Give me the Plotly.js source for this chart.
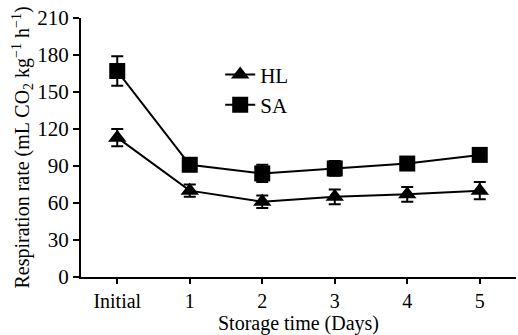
<!DOCTYPE html>
<html><head><meta charset="utf-8">
<script src="https://cdn.plot.ly/plotly-3.0.1.min.js"></script>
<style>html,body{margin:0;padding:0;background:#fff}#chart{width:518px;height:335px}</style>
</head><body><div id="chart"></div>
<script>
const categories = ["Initial", "1", "2", "3", "4", "5"];
const hlValues = [113, 70, 61, 65, 67, 70];
const hlErrors = [7, 5, 5, 6, 6, 7];
const saValues = [167, 91, 84, 88, 92, 99];
const saErrors = [12, 3, 7, 6, 3, 3];
const yTicks = [0, 30, 60, 90, 120, 150, 180, 210];

const font = {family: "Liberation Serif", color: "#000"};
const xIdx = categories.map((c, i) => i);
const f = s => Object.assign({size: s}, font);

const traces = [
  {x: xIdx, y: hlValues, name: "HL", type: "scatter", mode: "lines+markers",
   line: {color: "#000", width: 2},
   marker: {symbol: "triangle-up", size: 16, color: "#000"},
   error_y: {type: "data", array: hlErrors, visible: true, color: "#000", thickness: 2, width: 6}},
  {x: xIdx, y: saValues, name: "SA", type: "scatter", mode: "lines+markers",
   line: {color: "#000", width: 2},
   marker: {symbol: "square", size: 16, color: "#000"},
   error_y: {type: "data", array: saErrors, visible: true, color: "#000", thickness: 2, width: 6}}
];

const layout = {
  width: 518, height: 335,
  margin: {l: 81, r: 2, t: 18, b: 58},
  paper_bgcolor: "#fff", plot_bgcolor: "#fff",
  font: f(21),
  showlegend: true,
  legend: {x: 0.32, y: 0.86, xanchor: "left", yanchor: "top", bgcolor: "rgba(0,0,0,0)",
           font: f(21), itemwidth: 30, tracegroupgap: 0},
  xaxis: {
    range: [-0.5, 5.5], tickmode: "array", tickvals: xIdx, ticktext: categories,
    tickson: "boundaries", ticks: "outside", ticklen: 5, tickwidth: 2, tickcolor: "#000",
    showline: true, linecolor: "#000", linewidth: 2, showgrid: false, zeroline: false,
    tickfont: f(20),
    title: {text: "Storage time (Days)", font: f(20), standoff: 0}
  },
  yaxis: {
    range: [0, 210], tickmode: "array", tickvals: yTicks,
    ticks: "outside", ticklen: 6, tickwidth: 2, tickcolor: "#000",
    showline: true, linecolor: "#000", linewidth: 2, showgrid: false, zeroline: false,
    tickfont: f(21),
    title: {text: "Respiration rate (mL CO<sub>2</sub> kg<sup>−1</sup> h<sup>−1</sup>)",
            font: f(20), standoff: 2}
  }
};

Plotly.newPlot("chart", traces, layout, {staticPlot: true, displayModeBar: false});
</script></body></html>
